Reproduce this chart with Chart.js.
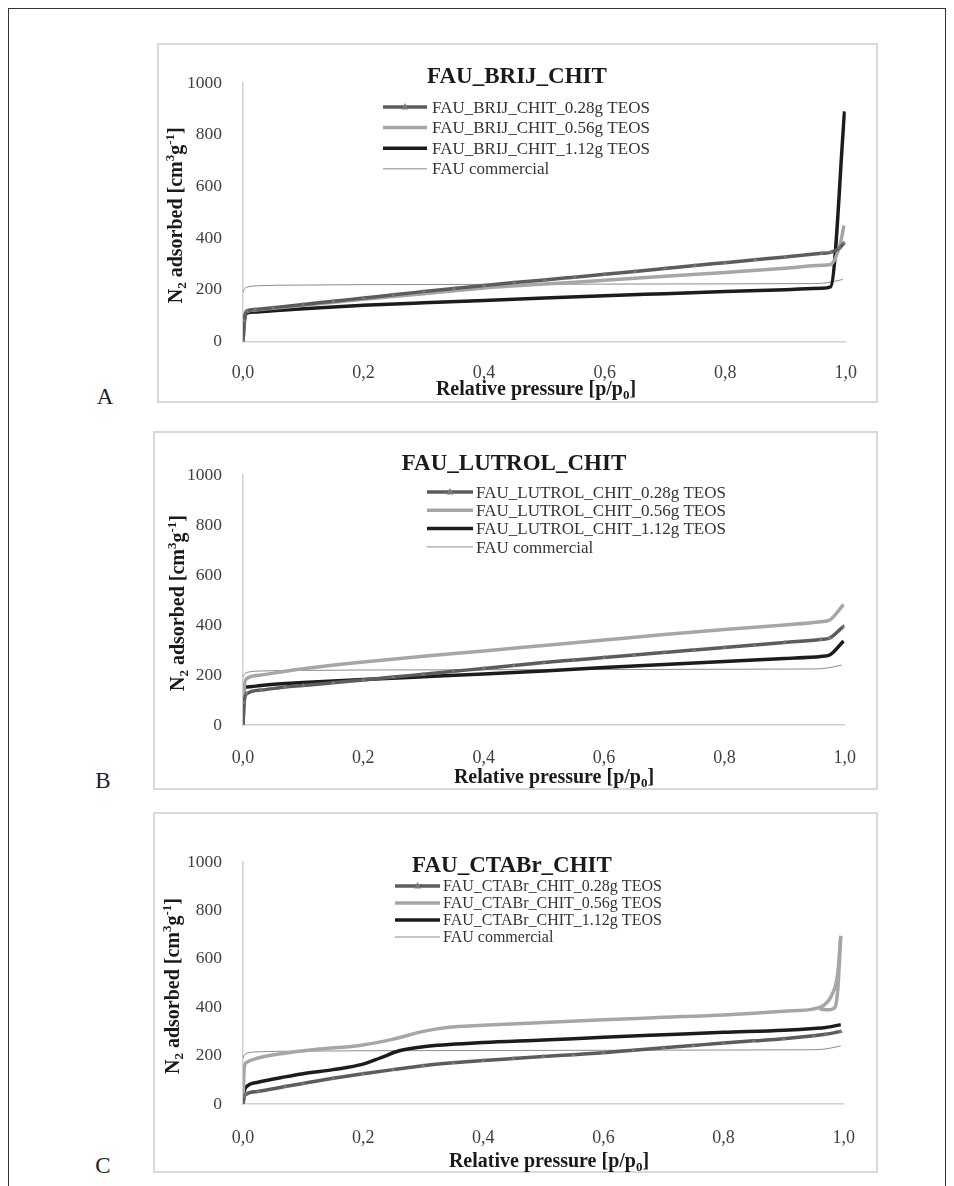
<!DOCTYPE html>
<html>
<head>
<meta charset="utf-8">
<script src="https://cdn.jsdelivr.net/npm/chart.js@4.4.1/dist/chart.umd.min.js"></script>
<style>
html, body { margin: 0; padding: 0; background: #fff; }
body { width: 954px; height: 1186px; position: relative; overflow: hidden; font-family: "Liberation Serif", serif; }
#frame { position: absolute; left: 8px; top: 8px; width: 936px; height: 1200px; border: 1.5px solid #333; }
.box { position: absolute; border: 2px solid #d9d9d9; box-sizing: border-box; }
canvas { position: absolute; }
.letter { position: absolute; width: 30px; text-align: center; font-size: 23px; line-height: 23px; color: #222; }
</style>
</head>
<body>
<div id="frame"></div>
<script>
const xTickValues = [0, 0.2, 0.4, 0.6, 0.8, 1.0];
const yTickValues = [0, 200, 400, 600, 800, 1000];
const panelTitles = ['FAU_BRIJ_CHIT', 'FAU_LUTROL_CHIT', 'FAU_CTABr_CHIT'];
const panelLetters = ['A', 'B', 'C'];
const teosAmounts = ['0.28g TEOS', '0.56g TEOS', '1.12g TEOS'];
const commercialLabel = 'FAU commercial';

// FAU commercial, same curve in all three panels
const commercialP = [0, 0.003, 0.01, 0.03, 0.08, 0.2, 0.4, 0.6, 0.8, 0.93, 0.96, 0.98, 0.995];
const commercialV = [190, 205, 212, 216, 218, 220, 221, 222, 223, 224, 225, 232, 240];

// A - FAU_BRIJ_CHIT
const brij028P = [0, 0.002, 0.006, 0.02, 0.05, 0.1, 0.15, 0.2, 0.25, 0.3, 0.35, 0.4, 0.45, 0.5, 0.55, 0.6, 0.65, 0.7, 0.75, 0.8, 0.85, 0.9, 0.96, 0.975, 0.99, 0.997];
const brij028V = [0, 80, 118, 124, 131, 143, 156, 168, 181, 193, 205, 217, 228, 238, 249, 260, 271, 282, 294, 305, 316, 327, 341, 345, 362, 381];
const brij056P = [0, 0.002, 0.006, 0.02, 0.05, 0.1, 0.2, 0.3, 0.4, 0.5, 0.6, 0.7, 0.8, 0.9, 0.96, 0.975, 0.99, 0.997];
const brij056V = [0, 75, 116, 122, 129, 140, 163, 185, 207, 222, 237, 252, 267, 283, 295, 298, 370, 448];
const brij112P = [0, 0.002, 0.006, 0.02, 0.05, 0.1, 0.2, 0.3, 0.4, 0.5, 0.6, 0.7, 0.8, 0.9, 0.96, 0.975, 0.998];
const brij112V = [0, 70, 110, 114, 119, 127, 140, 150, 159, 168, 177, 185, 193, 200, 206, 212, 890];

// B - FAU_LUTROL_CHIT
const lutrol028P = [0, 0.002, 0.006, 0.03, 0.07, 0.1, 0.15, 0.2, 0.25, 0.3, 0.35, 0.4, 0.45, 0.5, 0.55, 0.6, 0.65, 0.7, 0.75, 0.8, 0.85, 0.9, 0.96, 0.975, 0.998];
const lutrol028V = [0, 90, 125, 140, 152, 158, 169, 180, 192, 203, 215, 226, 238, 250, 260, 270, 280, 290, 300, 310, 320, 330, 342, 348, 395];
const lutrol056P = [0, 0.002, 0.006, 0.03, 0.07, 0.1, 0.2, 0.3, 0.4, 0.5, 0.6, 0.7, 0.8, 0.9, 0.96, 0.975, 0.998];
const lutrol056V = [0, 150, 185, 200, 215, 225, 252, 275, 296, 318, 340, 362, 382, 400, 413, 420, 482];
const lutrol112P = [0, 0.002, 0.006, 0.03, 0.07, 0.1, 0.2, 0.3, 0.4, 0.5, 0.6, 0.7, 0.8, 0.9, 0.96, 0.975, 0.998];
const lutrol112V = [0, 148, 152, 158, 166, 170, 182, 193, 204, 216, 230, 242, 254, 266, 274, 280, 336];

// C - FAU_CTABr_CHIT
const ctabr028P = [0, 0.002, 0.005, 0.025, 0.07, 0.1, 0.15, 0.2, 0.25, 0.3, 0.35, 0.4, 0.45, 0.5, 0.55, 0.6, 0.65, 0.7, 0.75, 0.8, 0.85, 0.9, 0.95, 0.97, 0.995];
const ctabr028V = [0, 30, 40, 52, 72, 85, 106, 125, 142, 158, 170, 180, 188, 196, 204, 212, 222, 232, 242, 252, 261, 270, 282, 288, 300];
const ctabr056P = [0, 0.002, 0.005, 0.025, 0.07, 0.12, 0.2, 0.25, 0.3, 0.34, 0.4, 0.5, 0.6, 0.7, 0.8, 0.9, 0.95, 0.965, 0.98, 0.99, 0.995];
const ctabr056V = [0, 150, 170, 190, 210, 225, 244, 268, 300, 316, 325, 337, 348, 358, 368, 383, 393, 405, 450, 540, 695];
const ctabr056DesP = [0.96, 0.975, 0.985, 0.99, 0.995];
const ctabr056DesV = [392, 389, 398, 470, 695];
const ctabr112P = [0, 0.002, 0.005, 0.025, 0.07, 0.1, 0.15, 0.2, 0.23, 0.26, 0.3, 0.4, 0.5, 0.6, 0.7, 0.8, 0.9, 0.95, 0.97, 0.995];
const ctabr112V = [0, 50, 70, 90, 112, 125, 142, 165, 192, 220, 237, 254, 264, 276, 286, 296, 305, 312, 316, 328];

function pts(p, v) {
  return p.map((x, i) => ({x: x, y: v[i]}));
}

const styles = [
  {color: '#5c5c5c', width: 3.5, marker: true},
  {color: '#a6a6a6', width: 3.5},
  {color: '#1c1c1c', width: 3.5},
  {color: '#8c8c8c', width: 1}
];

const serif = '"Liberation Serif", "Times New Roman", serif';

const panels = [
  {box: {x: 157, y: 43, w: 721, h: 360}, plot: {l: 243, r: 852, t: 83, b: 341.5},
   title: {x: 517, y: 83}, legend: {x1: 383, x2: 427, tx: 432, y0: 107, dy: 20.6, size: 17},
   xTitle: {x: 536, y: 395}, yTitleX: 181.5, tickPad: 21, letter: {x: 105, y: 404},
   series: [pts(brij028P, brij028V), pts(brij056P, brij056V), pts(brij112P, brij112V)], extra: []},
  {box: {x: 153, y: 431, w: 725, h: 359}, plot: {l: 243, r: 852, t: 475, b: 725},
   title: {x: 514, y: 470}, legend: {x1: 427, x2: 473, tx: 476, y0: 492, dy: 18.3, size: 17},
   xTitle: {x: 554, y: 783}, yTitleX: 183.5, tickPad: 22, letter: {x: 103, y: 788},
   series: [pts(lutrol028P, lutrol028V), pts(lutrol056P, lutrol056V), pts(lutrol112P, lutrol112V)], extra: []},
  {box: {x: 153, y: 812, w: 725, h: 361}, plot: {l: 243, r: 852, t: 862, b: 1104},
   title: {x: 512, y: 872}, legend: {x1: 395, x2: 440, tx: 443, y0: 886, dy: 17, size: 16},
   xTitle: {x: 549, y: 1167}, yTitleX: 178.5, tickPad: 23, letter: {x: 103, y: 1173},
   series: [pts(ctabr028P, ctabr028V), pts(ctabr056P, ctabr056V), pts(ctabr112P, ctabr112V)],
   extra: [{style: 1, data: pts(ctabr056DesP, ctabr056DesV)}]}
];

function drawRich(ctx, parts, x, y, size) {
  const fontOf = p => 'bold ' + (p.sub || p.sup ? size * 0.65 : size) + 'px ' + serif;
  let w = 0;
  parts.forEach(p => { ctx.font = fontOf(p); w += ctx.measureText(p.t).width; });
  let cx = x - w / 2;
  ctx.textAlign = 'left';
  ctx.textBaseline = 'alphabetic';
  parts.forEach(p => {
    ctx.font = fontOf(p);
    const dy = p.sub ? size * 0.22 : (p.sup ? -size * 0.36 : 0);
    ctx.fillText(p.t, cx, y + dy);
    cx += ctx.measureText(p.t).width;
  });
}

const yTitleParts = [{t: 'N'}, {t: '2', sub: true}, {t: ' adsorbed [cm'}, {t: '3', sup: true}, {t: 'g'}, {t: '-1', sup: true}, {t: ']'}];
const xTitleParts = [{t: 'Relative pressure [p/p'}, {t: '0', sub: true}, {t: ']'}];

function makeDecor(panel, k) {
  const ox = panel.box.x, oy = panel.box.y;
  return {
    id: 'decor' + k,
    afterDraw(chart) {
      const ctx = chart.ctx;
      ctx.save();
      // title
      ctx.fillStyle = '#1a1a1a';
      ctx.font = 'bold 23px ' + serif;
      ctx.textAlign = 'center';
      ctx.textBaseline = 'alphabetic';
      ctx.fillText(panelTitles[k], panel.title.x - ox, panel.title.y - oy);
      // legend inside the plot
      const lg = panel.legend;
      const labels = teosAmounts.map(t => panelTitles[k] + '_' + t).concat([commercialLabel]);
      labels.forEach((lab, i) => {
        const st = styles[i];
        const y = lg.y0 + i * lg.dy - oy;
        ctx.strokeStyle = st.color;
        ctx.lineWidth = st.width;
        ctx.beginPath();
        ctx.moveTo(lg.x1 - ox, y);
        ctx.lineTo(lg.x2 - ox, y);
        ctx.stroke();
        if (st.marker) {
          const mx = (lg.x1 + lg.x2) / 2 - ox;
          ctx.fillStyle = '#7a7a7a';
          ctx.beginPath();
          ctx.moveTo(mx, y - 4);
          ctx.lineTo(mx + 3.5, y + 2.5);
          ctx.lineTo(mx - 3.5, y + 2.5);
          ctx.closePath();
          ctx.fill();
        }
        ctx.fillStyle = '#333';
        ctx.font = lg.size + 'px ' + serif;
        ctx.textAlign = 'left';
        ctx.fillText(lab, lg.tx - ox, y + lg.size * 0.33);
      });
      // axis titles
      ctx.fillStyle = '#1a1a1a';
      drawRich(ctx, xTitleParts, panel.xTitle.x - ox, panel.xTitle.y - oy, 20);
      ctx.save();
      ctx.translate(panel.yTitleX - ox, (panel.plot.t + panel.plot.b) / 2 + 3 - oy);
      ctx.rotate(-Math.PI / 2);
      drawRich(ctx, yTitleParts, 0, 0, 20);
      ctx.restore();
      ctx.restore();
    }
  };
}

panels.forEach((panel, k) => {
  const b = panel.box, pl = panel.plot;
  const boxDiv = document.createElement('div');
  boxDiv.className = 'box';
  Object.assign(boxDiv.style, {left: b.x + 'px', top: b.y + 'px', width: b.w + 'px', height: b.h + 'px'});
  document.body.appendChild(boxDiv);

  const letter = document.createElement('div');
  letter.className = 'letter';
  letter.textContent = panelLetters[k];
  Object.assign(letter.style, {left: (panel.letter.x - 15) + 'px', top: (panel.letter.y - 19.3) + 'px'});
  document.body.appendChild(letter);

  const canvas = document.createElement('canvas');
  canvas.width = b.w;
  canvas.height = b.h;
  Object.assign(canvas.style, {left: b.x + 'px', top: b.y + 'px', width: b.w + 'px', height: b.h + 'px'});
  document.body.appendChild(canvas);

  const datasets = panel.series.map((d, i) => ({
    label: panelTitles[k] + '_' + teosAmounts[i],
    data: d,
    borderColor: styles[i].color,
    borderWidth: styles[i].width,
    pointRadius: styles[i].marker ? 2.5 : 0,
    pointStyle: 'triangle',
    pointBackgroundColor: '#7a7a7a',
    pointBorderWidth: 0
  }));
  datasets.push({
    label: commercialLabel,
    data: pts(commercialP, commercialV),
    borderColor: styles[3].color,
    borderWidth: styles[3].width,
    pointRadius: 0
  });
  panel.extra.forEach(e => datasets.push({
    label: panelTitles[k] + '_' + teosAmounts[e.style] + ' (desorption)',
    data: e.data,
    borderColor: styles[e.style].color,
    borderWidth: styles[e.style].width,
    pointRadius: 0
  }));
  datasets.forEach(ds => {
    ds.showLine = true;
    ds.fill = false;
    ds.cubicInterpolationMode = 'monotone';
  });

  new Chart(canvas.getContext('2d'), {
    type: 'scatter',
    data: {datasets: datasets},
    plugins: [makeDecor(panel, k)],
    options: {
      responsive: false,
      animation: false,
      events: [],
      layout: {padding: {left: 0, top: pl.t - b.y, right: b.x + b.w - pl.r, bottom: 0}},
      plugins: {legend: {display: false}, tooltip: {enabled: false}},
      scales: {
        x: {
          type: 'linear', min: 0, max: 1,
          afterBuildTicks: s => { s.ticks = xTickValues.map(v => ({value: v})); },
          afterFit: s => { s.height = b.y + b.h - pl.b; },
          grid: {display: false, drawTicks: false},
          border: {display: true, color: '#d0d0d0', width: 1.5},
          ticks: {
            padding: panel.tickPad, autoSkip: false, maxRotation: 0, color: '#404040',
            font: {family: serif, size: 18},
            callback: v => v.toFixed(1).replace('.', ',')
          }
        },
        y: {
          type: 'linear', min: 0, max: 1000,
          afterBuildTicks: s => { s.ticks = yTickValues.map(v => ({value: v})); },
          afterFit: s => { s.width = pl.l - b.x; },
          grid: {display: false, drawTicks: false},
          border: {display: true, color: '#d0d0d0', width: 1.5},
          ticks: {
            padding: 21, color: '#404040',
            font: {family: serif, size: 17.5},
            callback: v => String(v)
          }
        }
      }
    }
  });
});
</script>
</body>
</html>
